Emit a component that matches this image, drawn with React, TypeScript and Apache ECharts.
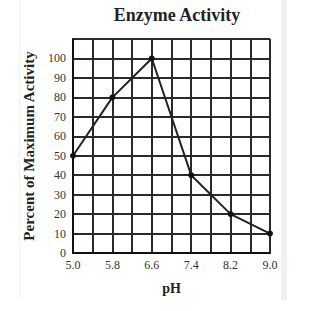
import React, { useEffect, useRef } from "react";
import * as echarts from "echarts";

const phCategories = ["5.0", "5.4", "5.8", "6.2", "6.6", "7.0", "7.4", "7.8", "8.2", "8.6", "9.0"];
const pointPh = ["5.0", "5.8", "6.6", "7.4", "8.2", "9.0"];
const activity = [50, 80, 100, 40, 20, 10];

const FONT = "'Liberation Serif', 'DejaVu Serif', serif";

export default function App() {
  const ref = useRef<HTMLDivElement>(null);
  useEffect(() => {
    if (!ref.current) return;
    const chart = echarts.init(ref.current, undefined, { renderer: "svg" });
    chart.setOption({
      animation: false,
      backgroundColor: "#ffffff",
      title: {
        text: "Enzyme Activity",
        left: 172,
        textAlign: "center",
        top: 1,
        textStyle: { fontFamily: FONT, fontWeight: "bold", fontSize: 18, color: "#222" },
      },
      graphic: [
        { type: "rect", shape: { x: 281, y: 0, width: 6, height: 300 }, style: { fill: "#f0f0f0" }, silent: true },
        { type: "rect", shape: { x: 19, y: 0, width: 1, height: 300 }, style: { fill: "#f4f4f4" }, silent: true },
      ],
      grid: { left: 73, right: 53, top: 39, bottom: 58 },
      xAxis: {
        type: "category",
        data: phCategories,
        boundaryGap: false,
        name: "pH",
        nameLocation: "middle",
        nameGap: 28,
        nameTextStyle: { fontFamily: FONT, fontWeight: "bold", fontSize: 14, color: "#222" },
        axisLine: { lineStyle: { color: "#111", width: 2 } },
        axisTick: { show: false },
        axisLabel: { interval: 1, fontFamily: FONT, fontSize: 12, color: "#333", margin: 6 },
        splitLine: { show: true, interval: 0, lineStyle: { color: "#2a2a2a", width: 2 } },
      },
      yAxis: {
        type: "value",
        min: 0,
        max: 110,
        interval: 10,
        name: "Percent of Maximum Activity",
        nameLocation: "middle",
        nameGap: 37,
        nameTextStyle: { fontFamily: FONT, fontWeight: "bold", fontSize: 15, color: "#222" },
        axisLine: { show: true, lineStyle: { color: "#111", width: 2 } },
        axisTick: { show: false },
        axisLabel: {
          fontFamily: FONT,
          fontSize: 12,
          color: "#333",
          margin: 7,
          formatter: (v: number) => (v > 100 ? "" : String(v)),
        },
        splitLine: { show: true, lineStyle: { color: "#2a2a2a", width: 2 } },
      },
      series: [
        {
          type: "line",
          data: pointPh.map((p, i) => [p, activity[i]]),
          symbol: "circle",
          symbolSize: 6,
          itemStyle: { color: "#111" },
          lineStyle: { color: "#222", width: 2 },
        },
      ],
    });
    return () => chart.dispose();
  }, []);
  return <div ref={ref} style={{ position: "absolute", left: 0, top: 0, width: 323, height: 311 }} />;
}
